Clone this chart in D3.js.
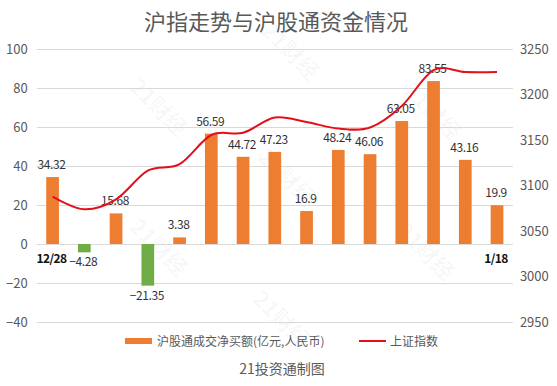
<!DOCTYPE html>
<html>
<head>
<meta charset="utf-8">
<script src="https://cdn.jsdelivr.net/npm/d3@7"></script>
<style>
  body { margin: 0; background: #fff; }
  svg text { font-family: "Noto Sans CJK SC", "Noto Sans", sans-serif; }
</style>
</head>
<body>
<svg id="viz" width="557" height="386"></svg>
<script>
var dates = ["12/28", "12/29", "12/30", "1/3", "1/4", "1/5", "1/6", "1/9",
  "1/10", "1/11", "1/12", "1/13", "1/16", "1/17", "1/18"];
var netBuy = [34.32, -4.28, 15.68, -21.35, 3.38, 56.59, 44.72, 47.23,
  16.9, 48.24, 46.06, 63.05, 83.55, 43.16, 19.9];
var shIndex = [3087.7, 3073.8, 3084.8, 3116.3, 3123.4, 3155.5, 3158, 3174.7,
  3169.8, 3162.6, 3163.7, 3187.4, 3226.9, 3224.7, 3224.7];
var leftTicks = [-40, -20, 0, 20, 40, 60, 80, 100];
var rightTicks = [2950, 3000, 3050, 3100, 3150, 3200, 3250];
var shownDates = ["12/28", "1/18"];
var titleText = "沪指走势与沪股通资金情况";
var legendBar = "沪股通成交净买额(亿元,人民币)";
var legendLine = "上证指数";
var sourceText = "21投资通制图";

var svg = d3.select("#viz");
var orange = "#ED7D31";
var green = "#70AD47";
var red = "#E3101A";
var gray = "#595959";

var x = d3.scaleBand().domain(dates).range([36.7, 512.9])
  .paddingInner(0.6).paddingOuter(0.3);
var y = d3.scaleLinear().domain([-40, 100]).range([322, 49]);
var y2 = d3.scaleLinear().domain([2950, 3250]).range([322, 49]);

// watermarks
var marks = [[285, 57], [153, 113], [427, 117], [281, 183], [153, 253], [420, 257], [276, 325]];
svg.append("g")
  .selectAll("text")
  .data(marks)
  .enter()
  .append("text")
  .attr("transform", function (d) {
    return "translate(" + d[0] + "," + d[1] + ") rotate(45)";
  })
  .attr("text-anchor", "middle")
  .style("font-size", "22px")
  .style("font-weight", "bold")
  .attr("fill", "#000")
  .attr("fill-opacity", 0.035)
  .text("21财经");

// title
svg.append("text")
  .attr("x", 276)
  .attr("y", 30)
  .attr("text-anchor", "middle")
  .style("font-size", "22px")
  .attr("fill", gray)
  .text(titleText);

// left axis with grid
var leftAxis = svg.append("g")
  .attr("transform", "translate(36.7,0)")
  .call(d3.axisLeft(y).tickValues(leftTicks).tickSize(-476.2).tickPadding(9)
    .tickFormat(function (d) { return d < 0 ? "\u2212" + Math.abs(d) : d; }));
leftAxis.select(".domain").remove();
leftAxis.selectAll("line").attr("stroke", "#d9d9d9");
leftAxis.selectAll("text").attr("fill", gray).style("font-size", "13px");

// right axis
var rightAxis = svg.append("g")
  .attr("transform", "translate(512.9,0)")
  .call(d3.axisRight(y2).tickValues(rightTicks).tickSize(0).tickPadding(7)
    .tickFormat(d3.format("d")));
rightAxis.select(".domain").remove();
rightAxis.selectAll("text").attr("fill", gray).style("font-size", "13px");

// bars
svg.append("g")
  .selectAll("rect")
  .data(netBuy)
  .enter()
  .append("rect")
  .attr("x", function (d, i) { return x(dates[i]); })
  .attr("width", x.bandwidth())
  .attr("y", function (d) { return y(Math.max(0, d)); })
  .attr("height", function (d) { return Math.abs(y(d) - y(0)); })
  .attr("fill", function (d) { return d < 0 ? green : orange; });

// bar labels
svg.append("g")
  .selectAll("text")
  .data(netBuy)
  .enter()
  .append("text")
  .attr("x", function (d, i) { return x(dates[i]) + x.bandwidth() / 2 - 1; })
  .attr("y", function (d) { return d < 0 ? y(d) + 14 : y(d) - 8; })
  .attr("text-anchor", "middle")
  .style("font-size", "12px")
  .style("letter-spacing", "-0.4px")
  .attr("fill", "#333")
  .text(function (d) { return d < 0 ? "\u2212" + Math.abs(d) : d; });

// index line
var line = d3.line()
  .x(function (d, i) { return x(dates[i]) + x.bandwidth() / 2; })
  .y(function (d) { return y2(d); })
  .curve(d3.curveCardinal.tension(0));
svg.append("path")
  .datum(shIndex)
  .attr("fill", "none")
  .attr("stroke", red)
  .attr("stroke-width", 2)
  .attr("d", line);

// x labels (first and last date only)
svg.append("g")
  .selectAll("text")
  .data(shownDates)
  .enter()
  .append("text")
  .attr("x", function (d) { return x(d) + x.bandwidth() / 2 - 1; })
  .attr("y", 263)
  .attr("text-anchor", "middle")
  .style("font-size", "12px")
  .style("font-weight", "bold")
  .style("letter-spacing", "-0.6px")
  .attr("fill", "#111")
  .text(function (d) { return d; });

// legend
svg.append("rect")
  .attr("x", 125).attr("y", 338).attr("width", 27).attr("height", 6)
  .attr("fill", orange);
svg.append("text")
  .attr("x", 157).attr("y", 346)
  .style("font-size", "12px")
  .attr("fill", gray)
  .text(legendBar);
svg.append("line")
  .attr("x1", 359).attr("x2", 386).attr("y1", 341).attr("y2", 341)
  .attr("stroke", red).attr("stroke-width", 2);
svg.append("text")
  .attr("x", 390).attr("y", 346)
  .style("font-size", "12px")
  .attr("fill", gray)
  .text(legendLine);

// source
svg.append("text")
  .attr("x", 282).attr("y", 374)
  .attr("text-anchor", "middle")
  .style("font-size", "14px")
  .attr("fill", gray)
  .text(sourceText);
</script>
</body>
</html>
